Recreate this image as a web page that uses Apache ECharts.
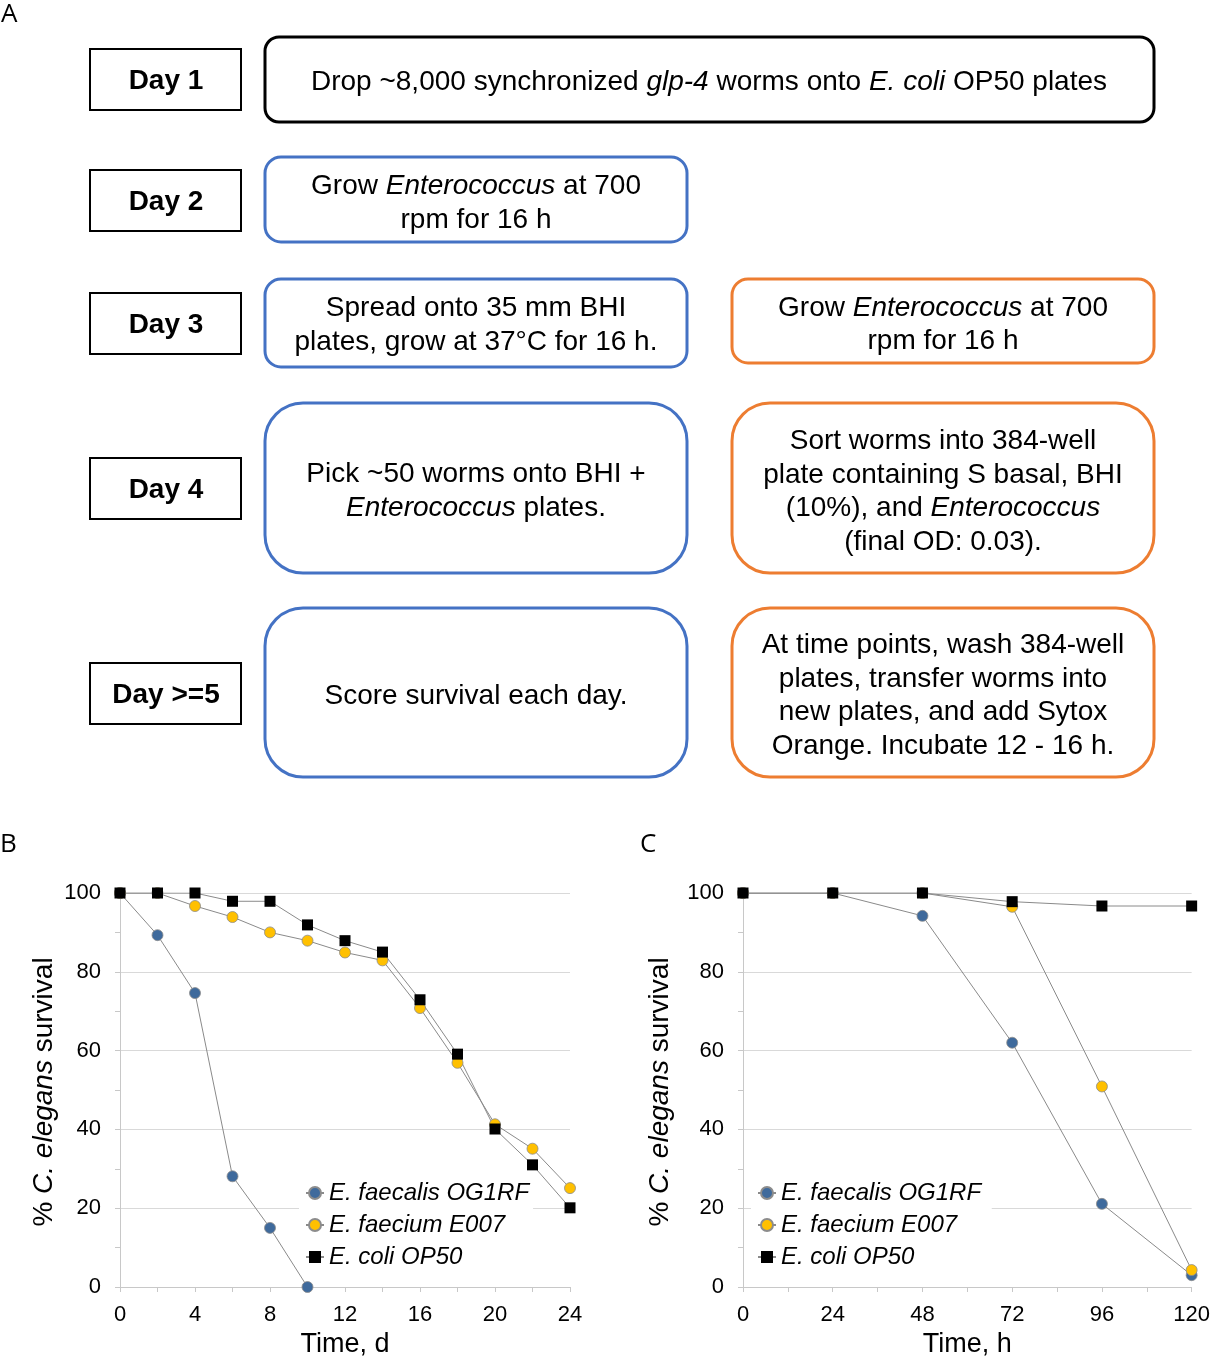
<!DOCTYPE html>
<html>
<head>
<meta charset="utf-8">
<script src="https://cdn.jsdelivr.net/npm/echarts@6/dist/echarts.min.js"></script>
<style>
html,body{margin:0;padding:0;background:#fff;}
#chart{width:1213px;height:1360px;}
</style>
</head>
<body>
<div id="chart"></div>
<script>
// ---- Data (panel B: days) ----
const daysB = [0, 2, 4, 6, 8, 10, 12, 14, 16, 18, 20, 22, 24];
const faecalisB = [100, 89.3, 74.6, 28.1, 15, 0];
const faeciumB = [100, 100, 96.7, 93.9, 90, 87.9, 84.9, 82.9, 70.8, 56.9, 41.3, 35.1, 25.1];
const coliB = [100, 100, 100, 97.9, 97.9, 91.9, 87.9, 85, 72.9, 59.1, 40.1, 31, 20.1];
// ---- Data (panel C: hours) ----
const hoursC = [0, 24, 48, 72, 96, 120];
const faecalisC = [100, 100, 94.2, 62, 21.1, 3];
const faeciumC = [100, 100, 100, 96.5, 50.9, 4.3];
const coliC = [100, 100, 100, 97.8, 96.7, 96.7];
const seriesNames = ['E. faecalis OG1RF', 'E. faecium E007', 'E. coli OP50'];
const yTicks = [0, 20, 40, 60, 80, 100];

const FONT = "'Liberation Sans', Arial, Helvetica, sans-serif";
const BLUE = '#4472C4', ORANGE = '#ED7D31';
const C_FAECALIS = '#3F6A9C', C_FAECIUM = '#FFC000', C_COLI = '#000000';
const LINE = '#8a8a8a';
const BODY = 28;

function pairs(xs, ys) { return ys.map((v, i) => [xs[i], v]); }

const chart = echarts.init(document.getElementById('chart'), null, {renderer: 'canvas'});

// ---------- Panel A graphics ----------
const g = [];
function box(x, y, w, h, r, stroke, lw) {
  g.push({type: 'rect', shape: {x: x, y: y, width: w, height: h, r: r},
          style: {fill: '#fff', stroke: stroke, lineWidth: lw}, z: 1});
}
const richI = {i: {fontStyle: 'italic', fontSize: BODY, fontFamily: FONT, fill: '#000', align: 'center'}};
function line(text, x, y, opts) {
  opts = opts || {};
  g.push({type: 'text', x: x, y: y + 2, z: 5,
    style: {text: text, fontSize: opts.size || BODY, fontFamily: opts.family || FONT,
            fontWeight: opts.weight || 'normal', fill: '#000',
            textAlign: opts.align || 'center', textVerticalAlign: 'middle', rich: richI}});
}
// Panel letters
const LETTER = "'Open Sans', sans-serif";
g.push({type: 'text', x: 1, y: 2, style: {text: 'A', fontSize: 26, fontFamily: LETTER, fill: '#000', textAlign: 'left', textVerticalAlign: 'top'}});
g.push({type: 'text', x: 0, y: 832, style: {text: 'B', fontSize: 26, fontFamily: LETTER, fill: '#000', textAlign: 'left', textVerticalAlign: 'top'}});
g.push({type: 'text', x: 640, y: 832, style: {text: 'C', fontSize: 26, fontFamily: LETTER, fill: '#000', textAlign: 'left', textVerticalAlign: 'top'}});

// Day boxes
const dayY = [49, 170, 293, 458, 663];
const dayLabels = ['Day 1', 'Day 2', 'Day 3', 'Day 4', 'Day >=5'];
dayY.forEach((y, i) => {
  box(90, y, 151, 61, 0, '#000', 2);
  line(dayLabels[i], 166, y + 30, {weight: 'bold', size: 28});
});

// Step boxes
box(265, 37, 889, 85, 14, '#000', 3);
line('Drop ~8,000 synchronized {i|glp-4} worms onto {i|E. coli} OP50 plates', 709, 80);

box(265, 157, 422, 85, 16, BLUE, 3);
line('Grow {i|Enterococcus} at 700', 476, 184);
line('rpm for 16 h', 476, 218);

box(265, 279, 422, 88, 16, BLUE, 3);
line('Spread onto 35 mm BHI', 476, 306);
line('plates, grow at 37°C for 16 h.', 476, 340);

box(732, 279, 422, 84, 16, ORANGE, 3);
line('Grow {i|Enterococcus} at 700', 943, 306);
line('rpm for 16 h', 943, 339);

box(265, 403, 422, 170, 38, BLUE, 3);
line('Pick ~50 worms onto BHI +', 476, 472);
line('{i|Enterococcus} plates.', 476, 506);

box(732, 403, 422, 170, 38, ORANGE, 3);
line('Sort worms into 384-well', 943, 439);
line('plate containing S basal, BHI', 943, 473);
line('(10%), and {i|Enterococcus}', 943, 506);
line('(final OD: 0.03).', 943, 540);

box(265, 608, 422, 169, 38, BLUE, 3);
line('Score survival each day.', 476, 694);

box(732, 608, 422, 169, 38, ORANGE, 3);
line('At time points, wash 384-well', 943, 643);
line('plates, transfer worms into', 943, 677);
line('new plates, and add Sytox', 943, 710);
line('Orange. Incubate 12 - 16 h.', 943, 744);

// Y-axis titles (rotated)
const YT = 28;
const richY = {i: {fontStyle: 'italic', fontSize: YT, fontFamily: FONT, fill: '#000'}};
[[44, 1092], [660, 1092]].forEach(p => {
  g.push({type: 'text', x: p[0], y: p[1], rotation: Math.PI / 2, z: 5,
    style: {text: '% {i|C. elegans} survival', fontSize: YT, fontFamily: FONT, fill: '#000',
            textAlign: 'center', textVerticalAlign: 'middle', rich: richY}});
});

// ---------- Axes ----------
function yAxis(gi) {
  return {
    type: 'value', gridIndex: gi, min: 0, max: 100, interval: 20,
    axisLine: {show: true, lineStyle: {color: '#c8c8c8', width: 1}},
    axisTick: {show: true, length: 5, lineStyle: {color: '#c8c8c8'}},
    minorTick: {show: true, splitNumber: 2, length: 5, lineStyle: {color: '#c8c8c8'}},
    splitLine: {show: true, lineStyle: {color: '#d9d9d9', width: 1}},
    axisLabel: {fontSize: 22, fontFamily: FONT, color: '#000', margin: 19,
                formatter: v => yTicks.indexOf(v) >= 0 ? String(v) : ''}
  };
}
function xAxis(gi, max, interval, name) {
  return {
    type: 'value', gridIndex: gi, min: 0, max: max, interval: interval,
    name: name, nameLocation: 'middle', nameGap: 44,
    nameTextStyle: {fontSize: 27, fontFamily: FONT, color: '#000'},
    axisLine: {show: true, onZero: false, lineStyle: {color: '#c8c8c8', width: 1}},
    axisTick: {show: true, length: 5, lineStyle: {color: '#c8c8c8'}},
    minorTick: {show: true, splitNumber: 2, length: 5, lineStyle: {color: '#c8c8c8'}},
    splitLine: {show: false},
    axisLabel: {fontSize: 22, fontFamily: FONT, color: '#000', margin: 17}
  };
}

function series(name, data, xi, color, symbol, size) {
  return {
    type: 'line', name: name, data: data, xAxisIndex: xi, yAxisIndex: xi,
    symbol: symbol, symbolSize: size, showSymbol: true,
    lineStyle: {color: LINE, width: 1},
    itemStyle: {color: color, borderColor: symbol === 'circle' ? '#8c8c8c' : color, borderWidth: symbol === 'circle' ? 0.8 : 0},
    emphasis: {disabled: true}, animation: false
  };
}

const legendBase = {
  orient: 'vertical', itemWidth: 18, itemHeight: 15, itemGap: 8,
  backgroundColor: '#fff', padding: [4, 4, 4, 6],
  textStyle: {fontSize: 24, fontStyle: 'italic', fontFamily: FONT, color: '#000', lineHeight: 24},
  selectedMode: false
};

const option = {
  animation: false,
  backgroundColor: '#fff',
  graphic: g,
  grid: [
    {left: 120, top: 893, width: 450, height: 394},
    {left: 743, top: 893, width: 451, height: 394}
  ],
  xAxis: [xAxis(0, 24, 4, 'Time, d'), xAxis(1, 120, 24, 'Time, h')],
  yAxis: [yAxis(0), yAxis(1)],
  legend: [
    Object.assign({}, legendBase, {left: 299, top: 1177, data: seriesNames.map(n => ({name: n}))}),
    Object.assign({}, legendBase, {left: 751, top: 1177, data: seriesNames.map(n => ({name: n + ' '}))})
  ],
  series: [
    series(seriesNames[0], pairs(daysB, faecalisB), 0, C_FAECALIS, 'circle', 11),
    series(seriesNames[1], pairs(daysB, faeciumB), 0, C_FAECIUM, 'circle', 11),
    series(seriesNames[2], pairs(daysB, coliB), 0, C_COLI, 'rect', 11),
    series(seriesNames[0] + ' ', pairs(hoursC, faecalisC), 1, C_FAECALIS, 'circle', 11),
    series(seriesNames[1] + ' ', pairs(hoursC, faeciumC), 1, C_FAECIUM, 'circle', 11),
    series(seriesNames[2] + ' ', pairs(hoursC, coliC), 1, C_COLI, 'rect', 11)
  ]
};
chart.setOption(option);
</script>
</body>
</html>
